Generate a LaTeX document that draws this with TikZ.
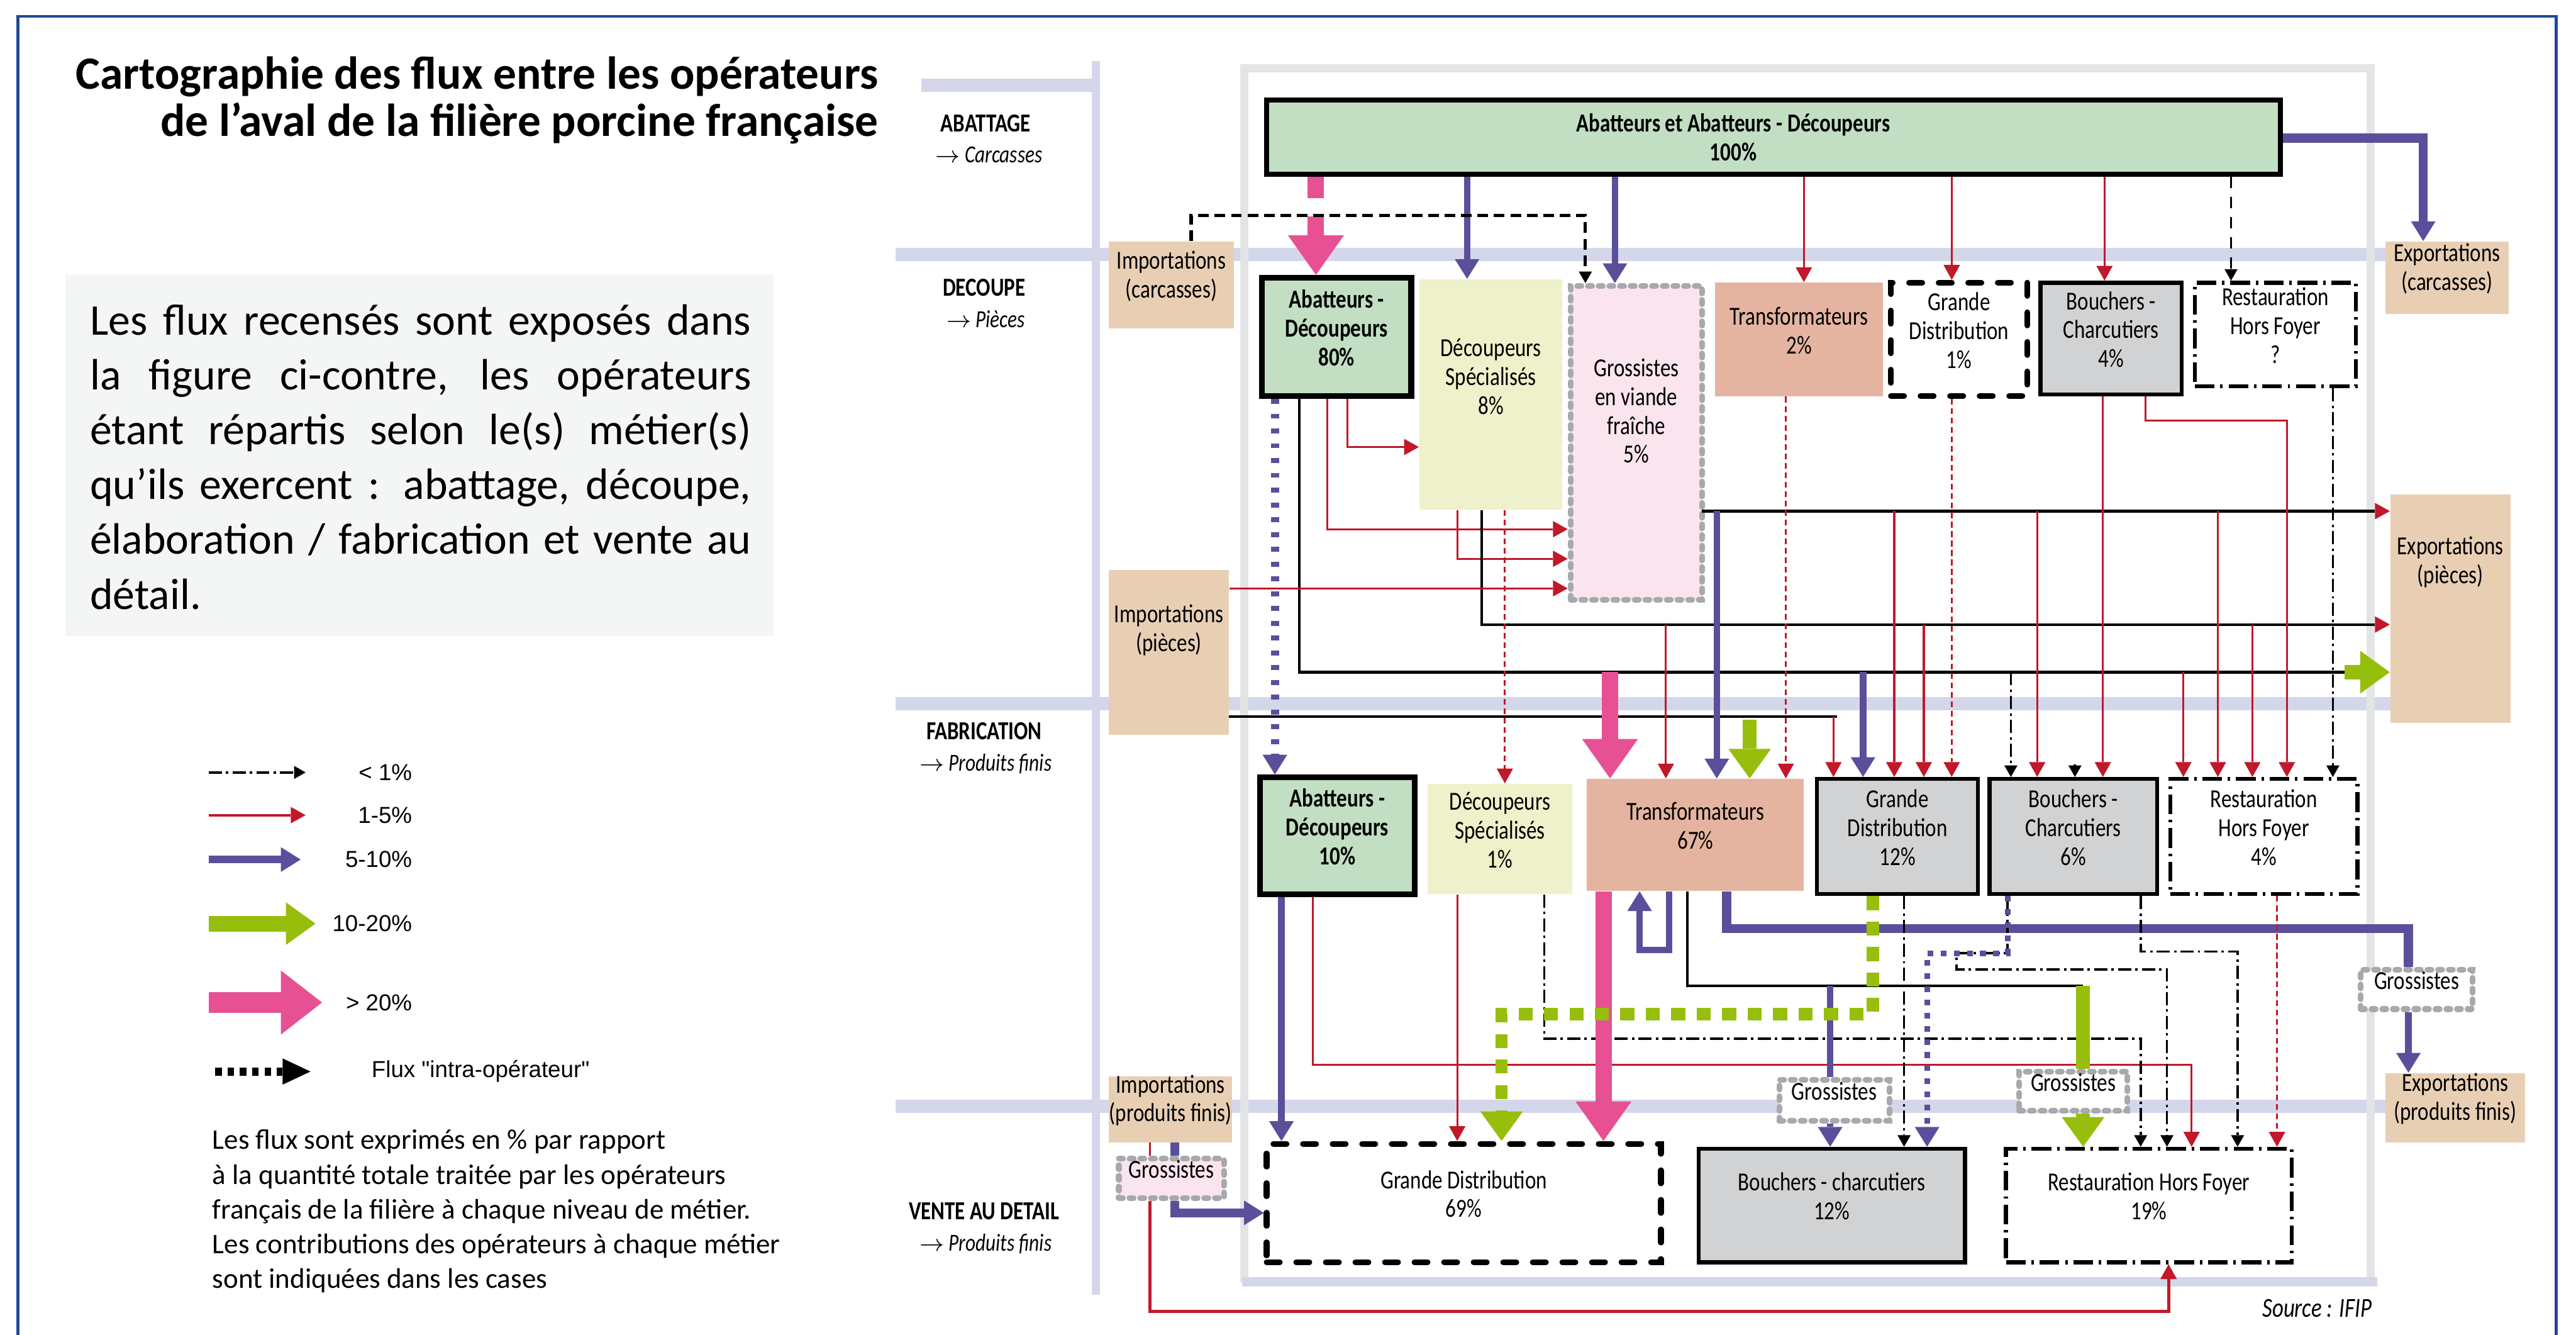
\documentclass[tikz,border=0pt]{standalone}
\usepackage{fontspec}
\setmainfont{Carlito}
\newfontfamily\condfont[FakeStretch=0.8]{Carlito}
\newfontfamily\arialfont{Liberation Sans}
\usetikzlibrary{arrows.meta,fit}

\definecolor{vert}{HTML}{C2DFC3}
\definecolor{jaune}{HTML}{EEF1C9}
\definecolor{rose}{HTML}{FAE4EE}
\definecolor{saumon}{HTML}{E5B4A0}
\definecolor{gris}{HTML}{D1D2D4}
\definecolor{beige}{HTML}{E8CFB4}
\definecolor{lavande}{HTML}{D4D7EA}
\definecolor{cadre}{HTML}{E3E4E6}
\definecolor{bleu}{HTML}{1F4A95}
\definecolor{violet}{HTML}{5B4F9B}
\definecolor{fuchsia}{HTML}{E75194}
\definecolor{pomme}{HTML}{97BE0D}
\definecolor{rouge}{HTML}{C1182A}
\definecolor{perle}{HTML}{A7A9AC}
\definecolor{fond}{HTML}{F3F6F4}

\newcommand{\boitefont}{\condfont\fontsize{9}{10}\selectfont}
\newcommand{\rangfont}{\condfont\bfseries\fontsize{9}{10}\selectfont}

\begin{document}
\begin{tikzpicture}[x=0.02cm, y=-0.02cm,
  boite/.style={inner sep=0pt, align=center, font=\boitefont},
  vertb/.style={boite, fill=vert, draw=black, line width=0.07cm, font=\boitefont\bfseries},
  jauneb/.style={boite, fill=jaune},
  saumonb/.style={boite, fill=saumon},
  beigeb/.style={boite, fill=beige},
  grisb/.style={boite, fill=gris, draw=black, line width=0.05cm},
  perleb/.style={boite, fill=#1, draw=perle, line width=0.07cm, line cap=round, dash pattern=on 0.05cm off 0.08cm},
  perleb/.default=white,
  tiretb/.style={boite, fill=white, draw=black, line width=0.07cm, line cap=round, dash pattern=on 0.16cm off 0.2cm},
  pointb/.style={boite, fill=white, draw=black, line width=0.05cm, dash pattern=on 0.24cm off 0.07cm on 0.03cm off 0.07cm},
  rang/.style={font=\rangfont, inner sep=0pt},
  sousrang/.style={font=\condfont\itshape\fontsize{8.5}{9}\selectfont, inner sep=0pt},
  frouge/.style={draw=rouge, line width=0.024cm, -{Triangle[width=0.2cm, length=0.18cm, line width=0pt]}},
  frougept/.style={frouge, dash pattern=on 0.07cm off 0.045cm},
  fnoir/.style={draw=black, line width=0.032cm},
  pointerouge/.style={-{Triangle[width=0.2cm, length=0.18cm, line width=0pt, color=rouge]}},
  ftiret/.style={draw=black, line width=0.028cm, dash pattern=on 0.16cm off 0.05cm on 0.03cm off 0.05cm, -{Triangle[width=0.16cm, length=0.14cm, line width=0pt]}},
  fviolet/.style={draw=violet, line width=0.08cm, -{Triangle[width=0.3cm, length=0.24cm, line width=0pt]}},
  fvert/.style={draw=pomme, line width=0.17cm, -{Triangle[width=0.52cm, length=0.36cm, line width=0pt]}},
  frose/.style={draw=fuchsia, line width=0.2cm, -{Triangle[width=0.68cm, length=0.48cm, line width=0pt]}}]

\useasboundingbox (0,0) rectangle (1568,812);

% bandes des metiers
\draw[lavande, line width=0.16cm] (561,52) -- (668,52);
\draw[lavande, line width=0.16cm] (545,155) -- (1452,155);
\draw[lavande, line width=0.16cm] (545,428) -- (1455,428);
\draw[lavande, line width=0.16cm] (545,673) -- (1452,673);
\draw[cadre, line width=0.1cm] (757.5,780) -- (757.5,41.5) -- (1443,41.5) -- (1443,780);
\draw[lavande, line width=0.12cm] (756,780) -- (1447,780);
\draw[lavande, line width=0.1cm] (667,37) -- (667,788);
\draw[bleu, line width=0.035cm] (11,830) -- (11,10) -- (1556,10) -- (1556,830);

\node[anchor=east, align=right, font=\bfseries\fontsize{16}{16.5}\selectfont, inner sep=0pt] (titre) at (535,61)
  {Cartographie des flux entre les opérateurs\\de l’aval de la filière porcine française};
\node[fill=fond, inner sep=0pt, fit={(40,167) (471,387)}] (cadretexte) {};
\node[text width=229pt, align=justify, inner sep=0pt, font=\fontsize{15.2}{19}\selectfont] (texte) at (256,278)
  {Les flux recensés sont exposés dans\linebreak
  la figure ci-contre, les opérateurs\linebreak
  étant répartis selon le(s) métier(s)\linebreak
  qu’ils exercent~: abattage, découpe,\linebreak
  élaboration / fabrication et vente au\linebreak
  détail.};

% legende
\draw[ftiret] (127,470) -- (186,470);
\draw[frouge, line width=0.03cm] (127,496) -- (186,496);
\draw[fviolet, line width=0.095cm] (127,523) -- (183,523);
\draw[fvert, line width=0.19cm] (127,562) -- (192,562);
\draw[frose, line width=0.26cm, -{Triangle[width=0.78cm, length=0.5cm, line width=0pt]}] (127,610) -- (196,610);
\draw[black, line width=0.1cm, dash pattern=on 0.08cm off 0.07cm, -{Triangle[width=0.32cm, length=0.34cm, line width=0pt]}] (131,652) -- (189,652);
\node[anchor=east, font=\arialfont\fontsize{8}{9}\selectfont] (l1) at (257,470) {< 1\%};
\node[anchor=east, font=\arialfont\fontsize{8}{9}\selectfont] (l2) at (257,496) {1-5\%};
\node[anchor=east, font=\arialfont\fontsize{8}{9}\selectfont] (l3) at (257,523) {5-10\%};
\node[anchor=east, font=\arialfont\fontsize{8}{9}\selectfont] (l4) at (257,562) {10-20\%};
\node[anchor=east, font=\arialfont\fontsize{8}{9}\selectfont] (l5) at (257,610) {> 20\%};
\node[anchor=west, font=\arialfont\fontsize{8}{9}\selectfont] (l6) at (220,652) {Flux "intra-opérateur"};
\node[anchor=west, align=left, inner sep=0pt, font=\fontsize{9.8}{12}\selectfont] (notes) at (129,737)
  {Les flux sont exprimés en \% par rapport\\à la quantité totale traitée par les opérateurs\\
   français de la filière à chaque niveau de métier.\\Les contributions des opérateurs à chaque métier\\
   sont indiquées dans les cases};

% niveaux
\node[rang] (abattage) at (600,75) {ABATTAGE};
\node[sousrang] (carcasses) at (602,94) {$\rightarrow$ Carcasses};
\node[rang] (decoupe) at (599,175) {DECOUPE};
\node[sousrang] (pieces) at (600,194) {$\rightarrow$ Pièces};
\node[rang] (fabrication) at (599,445) {FABRICATION};
\node[sousrang] (pfinis) at (600,465) {$\rightarrow$ Produits finis};
\node[rang] (vente) at (599,737) {VENTE AU DETAIL};
\node[sousrang] (pfinisb) at (600,757) {$\rightarrow$ Produits finis};
\node[anchor=east, font=\condfont\itshape\fontsize{9.5}{10}\selectfont, inner sep=0pt] (source) at (1444,796) {Source : IFIP};

% operateurs
\node[vertb, line width=0.06cm, fit={(771,61) (1388,106)},
  label={[boite, font=\boitefont\bfseries, xshift=-0.49cm]center:{Abatteurs et Abatteurs - Découpeurs\\100\%}}] (abat) {};

\node[beigeb, fit={(675,147) (751,200)}] (impcar) {Importations\\(carcasses)};
\node[vertb, fit={(768,169) (859,241)}] (ad80) {Abatteurs -\\Découpeurs\\80\%};
\node[jauneb, fit={(864,170) (951,310)}, label={[boite, yshift=0.22cm]center:{Découpeurs\\Spécialisés\\8\%}}] (ds8) {};
\node[perleb=rose, fit={(956,174) (1036,365)}, label={[boite, yshift=0.39cm]center:{Grossistes\\en viande\\fraîche\\5\%}}] (gros5) {};
\node[saumonb, fit={(1044,172) (1146,241)}] (tr2) {Transformateurs\\2\%};
\node[tiretb, fit={(1151,172) (1234,241)}] (gd1) {Grande\\Distribution\\1\%};
\node[grisb, fit={(1242,172) (1328,240)}] (bc4) {Bouchers -\\Charcutiers\\4\%};
\node[pointb, fit={(1336,172) (1434,235)}] (rhf0) {Restauration\\Hors Foyer\\?};
\node[beigeb, fit={(1452,147) (1527,191)}] (expcar) {Exportations\\(carcasses)};

\node[beigeb, fit={(675,347) (748,447)}, label={[boite, yshift=0.27cm]center:{Importations\\(pièces)}}] (imppie) {};
\node[beigeb, fit={(1455,301) (1528,440)}, label={[boite, yshift=0.57cm]center:{Exportations\\(pièces)}}] (exppie) {};

\node[vertb, fit={(767,473) (861,544)}] (ad10) {Abatteurs -\\Découpeurs\\10\%};
\node[jauneb, fit={(869,477) (957,544)}] (ds1) {Découpeurs\\Spécialisés\\1\%};
\node[saumonb, fit={(966,474) (1098,542)}] (tr67) {Transformateurs\\67\%};
\node[grisb, fit={(1106,474) (1204,544)}] (gd12) {Grande\\Distribution\\12\%};
\node[grisb, fit={(1211,474) (1313,544)}] (bc6) {Bouchers -\\Charcutiers\\6\%};
\node[pointb, fit={(1321,474) (1435,544)}] (rhf4) {Restauration\\Hors Foyer\\4\%};

\node[beigeb, fit={(675,655) (750,695)}] (imppf) {Importations\\(produits finis)};
\node[perleb=rose, fit={(681,705) (745,729)}] (grosA) {Grossistes};
\node[tiretb, fit={(771,696) (1011,768)}] (gd69) {Grande Distribution\\69\%};
\node[grisb, fit={(1034,699) (1196,768)}] (bc12) {Bouchers - charcutiers\\12\%};
\node[pointb, fit={(1221,699) (1395,768)}] (rhf19) {Restauration Hors Foyer\\19\%};
\node[beigeb, fit={(1452,653) (1537,695)}] (exppf) {Exportations\\(produits finis)};
\node[perleb, fit={(1083,657) (1150,682)}] (grosB) {Grossistes};
\node[perleb, fit={(1229,652) (1295,676)}] (grosC) {Grossistes};
\node[perleb, fit={(1437,590) (1505,614)}] (grosD) {Grossistes};

\coordinate (c311) at (1036,311);
\coordinate (c380) at (902,380);
\coordinate (c409) at (791,409);
\coordinate (c436) at (748,436);
\coordinate (jv) at (1427,409);
\coordinate (c600) at (1268,600);
\coordinate (pb) at (1263,465);

% abattage vers decoupe
\draw[frose, dash pattern=on 0.26cm off 0.22cm] (801,0 |- abat.south) -- (801,0 |- ad80.north);
\draw[fviolet] (893,0 |- abat.south) -- (893,0 |- ds8.north);
\draw[fviolet] (983,0 |- abat.south) -- (983,0 |- gros5.north);
\draw[frouge] (1098,0 |- abat.south) -- (1098,0 |- tr2.north);
\draw[frouge] (1188,0 |- abat.south) -- (1188,0 |- gd1.north);
\draw[frouge] (1281,0 |- abat.south) -- (1281,0 |- bc4.north);
\draw[ftiret, dash pattern=on 0.14cm off 0.105cm] (1358,0 |- abat.south) -- (1358,0 |- rhf0.north);
\draw[fviolet, line width=0.11cm] (abat.east |- 0,84) -| (1475,0 |- expcar.north);
\draw[ftiret, line width=0.04cm, dash pattern=on 0.13cm off 0.07cm] (725,0 |- impcar.north) -- (725,131) -- (965,131) -- (965,0 |- gros5.north);

% decoupe vers fabrication
\draw[fviolet, line width=0.1cm, dash pattern=on 0.06cm off 0.12cm] (776,0 |- ad80.south) -- (776,0 |- ad10.north);
\draw[fnoir] (791,0 |- ad80.south) -- (c409) -- (jv);
\draw[fvert] (jv) -- (exppie.west |- jv);
\draw[frouge] (808,0 |- ad80.south) |- (gros5.west |- 0,322);
\draw[frouge] (820,0 |- ad80.south) |- (ds8.west |- 0,272);
\draw[frouge] (887,0 |- ds8.south) |- (gros5.west |- 0,340);
\draw[fnoir, pointerouge] (c380 |- ds8.south) -- (c380) -- (exppie.west |- c380);
\draw[frougept] (916,0 |- ds8.south) -- (916,0 |- ds1.north);
\draw[frouge] (imppie.east |- 0,358) -- (gros5.west |- 0,358);
\draw[fnoir, pointerouge] (c311) -- (exppie.west |- c311);
\draw[fnoir] (c436) -- (1118,0 |- c436);

\draw[fviolet] (1045,0 |- c311) -- (1045,0 |- tr67.north);
\draw[frouge] (1014,0 |- c380) -- (1014,0 |- tr67.north);
\draw[frose] (980,0 |- c409) -- (980,0 |- tr67.north);
\draw[fvert, shorten <=0.04cm] (1065,0 |- c436) -- (1065,0 |- tr67.north);
\draw[frougept] (1087,0 |- tr2.south) -- (1087,0 |- tr67.north);
\draw[frouge] (1116,0 |- c436) -- (1116,0 |- gd12.north);
\draw[fviolet] (1134,0 |- c409) -- (1134,0 |- gd12.north);
\draw[frouge] (1153,0 |- c311) -- (1153,0 |- gd12.north);
\draw[frouge] (1171,0 |- c380) -- (1171,0 |- gd12.north);
\draw[frougept] (1188,0 |- gd1.south) -- (1188,0 |- gd12.north);
\draw[ftiret] (1224,0 |- c409) -- (1224,0 |- bc6.north);
\draw[frouge] (1240,0 |- c311) -- (1240,0 |- bc6.north);
\draw[ftiret] (pb) -- (pb |- bc6.north);
\draw[frouge] (1280,0 |- bc4.south) -- (1280,0 |- bc6.north);
\draw[frouge] (1306,0 |- bc4.south) -- (1306,256) -| (1392,0 |- rhf4.north);
\draw[frouge] (1329,0 |- c409) -- (1329,0 |- rhf4.north);
\draw[frouge] (1350,0 |- c311) -- (1350,0 |- rhf4.north);
\draw[frouge] (1371,0 |- c380) -- (1371,0 |- rhf4.north);
\draw[ftiret] (1420,0 |- rhf0.south) -- (1420,0 |- rhf4.north);

% fabrication vers vente
\draw[fviolet] (780,0 |- ad10.south) -- (780,0 |- gd69.north);
\draw[frouge] (799,0 |- ad10.south) |- (1334,648) -- (1334,0 |- rhf19.north);
\draw[frouge] (887,0 |- ds1.south) -- (887,0 |- gd69.north);
\draw[ftiret] (940,0 |- ds1.south) |- (1303,632) -- (1303,0 |- rhf19.north);
\draw[frose] (976,0 |- tr67.south) -- (976,0 |- gd69.north);
\draw[fviolet] (1016,0 |- tr67.south) -- (1016,578) -- (998,578) -- (998,0 |- tr67.south);
\draw[fnoir] (1027,0 |- tr67.south) |- (c600);
\draw[fvert, -] (c600) -- (c600 |- grosC.north);
\draw[fvert] (c600 |- grosC.south) -- (c600 |- rhf19.north);
\draw[fviolet, -] (1114,0 |- c600) -- (1114,0 |- grosB.north);
\draw[fviolet] (1114,0 |- grosB.south) -- (1114,0 |- bc12.north);
\draw[fviolet, line width=0.11cm, -] (1051,0 |- tr67.south) |- (1466,565) -- (1466,0 |- grosD.north);
\draw[fviolet] (1466,0 |- grosD.south) -- (1466,0 |- exppf.north);
\draw[fvert, line width=0.15cm, dash pattern=on 0.17cm off 0.14cm] (1140,0 |- gd12.south) |- (914,617) -- (914,0 |- gd69.north);
\draw[ftiret] (1159,0 |- gd12.south) -- (1159,0 |- bc12.north);
\draw[ftiret] (1222,0 |- bc6.south) -- (1222,580) -- (1191,580) |- (1319,590) -- (1319,0 |- rhf19.north);
\draw[fviolet, line width=0.07cm, dash pattern=on 0.07cm off 0.09cm] (1222,0 |- bc6.south) |- (1173,580) -- (1173,0 |- bc12.north);
\draw[ftiret] (1303,0 |- bc6.south) |- (1362,579) -- (1362,0 |- rhf19.north);
\draw[frougept] (1386,0 |- rhf4.south) -- (1386,0 |- rhf19.north);

% vente au detail
\draw[fviolet, line width=0.11cm, -] (715,0 |- imppf.south) -- (715,0 |- grosA.north);
\draw[fviolet, line width=0.11cm] (715,0 |- grosA.south) |- (gd69.west |- 0,738);
\draw[frouge, -] (700,0 |- imppf.south) -- (700,0 |- grosA.north);
\draw[frouge, line width=0.04cm] (700,0 |- grosA.south) |- (1320,798) -- (1320,0 |- rhf19.south);
\end{tikzpicture}
\end{document}
